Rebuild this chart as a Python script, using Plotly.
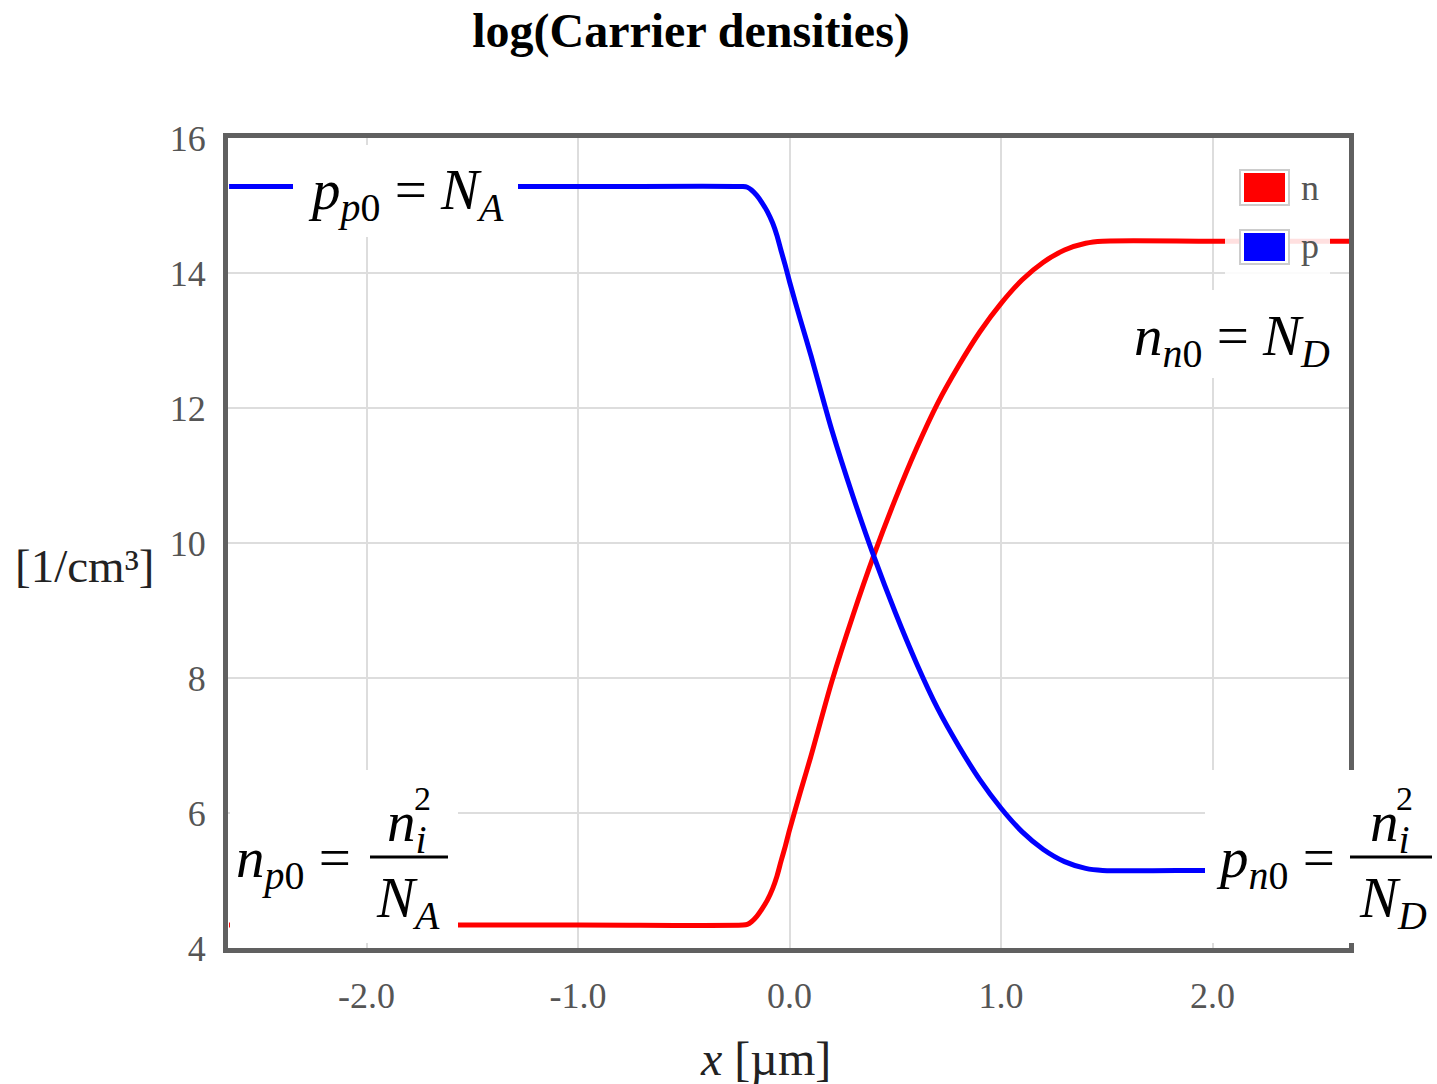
import plotly.graph_objects as go

# ---------------- data ----------------
x_um = [-2.65, -1.0, -0.22, -0.2, -0.18, -0.155, -0.13, -0.105, -0.08, -0.06, -0.04, -0.02,
        0.0, 0.05, 0.1, 0.2, 0.3, 0.4, 0.5, 0.6, 0.7, 0.8, 0.9, 1.0, 1.1, 1.2, 1.3,
        1.4, 1.48, 2.0, 2.65]
n_log = [4.34, 4.34, 4.34, 4.35, 4.39, 4.47, 4.58, 4.71, 4.88, 5.06, 5.29, 5.51,
         5.75, 6.30, 6.83, 7.95, 8.93, 9.83, 10.65, 11.40, 12.07, 12.63, 13.13, 13.55,
         13.90, 14.16, 14.34, 14.44, 14.47, 14.47, 14.47]
p_log = [15.28, 15.28, 15.28, 15.27, 15.23, 15.15, 15.04, 14.91, 14.74, 14.56, 14.33, 14.11,
         13.87, 13.32, 12.79, 11.67, 10.69, 9.79, 8.97, 8.22, 7.55, 6.99, 6.49, 6.07,
         5.72, 5.46, 5.28, 5.18, 5.15, 5.15, 5.15]
series_names = ["n", "p"]
series_colors = ["#ff0000", "#0000ff"]
x_tick_vals = [-2.0, -1.0, 0.0, 1.0, 2.0]
x_tick_text = ["-2.0", "-1.0", "0.0", "1.0", "2.0"]
y_tick_vals = [4, 6, 8, 10, 12, 14, 16]
y_tick_text = ["4", "6", "8", "10", "12", "14", "16"]
title_text = "log(Carrier densities)"
y_title = "[1/cm³]"
x_title = "<i>x</i> [µm]"

# ---------------- layout helpers ----------------
W, H = 1437, 1084
L, R, T, B = 228, 88, 138, 136
PW, PH = W - L - R, H - T - B
SERIF = "Liberation Serif, Times New Roman, serif"


def px(x):
    return (x - L) / PW


def py(y):
    return 1 - (y - T) / PH


fig = go.Figure()
for name, col, ys in zip(series_names, series_colors, [n_log, p_log]):
    fig.add_trace(go.Scatter(x=x_um, y=ys, name=name, mode="lines",
                             line=dict(color=col, width=5, shape="spline", smoothing=0.8),
                             showlegend=False))

shapes = []
# white boxes behind formulas
for (x0, y0, x1, y1) in [(293, 145, 518, 237), (1125, 290, 1340, 378),
                         (230, 770, 458, 943), (1205, 770, 1437, 943)]:
    shapes.append(dict(type="rect", xref="paper", yref="paper", x0=px(x0), x1=px(x1),
                       y0=py(y1), y1=py(y0), fillcolor="white", line=dict(width=0),
                       layer="above"))
# legend box
shapes.append(dict(type="rect", xref="paper", yref="paper", x0=px(1225), x1=px(1330),
                   y0=py(276), y1=py(160), fillcolor="rgba(255,255,255,0.88)",
                   line=dict(width=0), layer="above"))
for col, (ya, yb) in zip(series_colors, [(173, 202), (233, 261)]):
    shapes.append(dict(type="rect", xref="paper", yref="paper", x0=px(1240), x1=px(1289),
                       y0=py(yb + 3), y1=py(ya - 3), fillcolor="white",
                       line=dict(color="#cccccc", width=2), layer="above"))
    shapes.append(dict(type="rect", xref="paper", yref="paper", x0=px(1244), x1=px(1285),
                       y0=py(yb), y1=py(ya), fillcolor=col, line=dict(width=0),
                       layer="above"))
# fraction bars
for (x0, x1) in [(370, 448), (1350, 1432)]:
    shapes.append(dict(type="line", xref="paper", yref="paper", x0=px(x0), x1=px(x1),
                       y0=py(857), y1=py(857), line=dict(color="black", width=3),
                       layer="above"))

annotations = []


def ann(text, x, y, size, xanchor="center", yanchor="middle", color="black"):
    annotations.append(dict(text=text, x=px(x), y=py(y), xref="paper", yref="paper",
                            showarrow=False, xanchor=xanchor, yanchor=yanchor,
                            font=dict(family=SERIF, size=size, color=color)))


# legend labels
ann(series_names[0], 1299, 188, 36, xanchor="left", color="#555555")
ann(series_names[1], 1299, 246, 36, xanchor="left", color="#555555")

# formulas
ann("<i>p</i><sub><i>p</i>0</sub> = <i>N</i><sub><i>A</i></sub>", 406, 194, 57)
ann("<i>n</i><sub><i>n</i>0</sub> = <i>N</i><sub><i>D</i></sub>", 1232, 340, 57)

ann("<i>n</i><sub><i>p</i>0</sub> =", 234, 862, 57, xanchor="left")
ann("<i>n</i><sub><i>i</i></sub>", 407, 826, 57)
ann("2", 422, 798, 34)
ann("<i>N</i><sub><i>A</i></sub>", 408, 902, 57)

ann("<i>p</i><sub><i>n</i>0</sub> =", 1214, 862, 57, xanchor="left")
ann("<i>n</i><sub><i>i</i></sub>", 1390, 826, 57)
ann("2", 1404, 798, 34)
ann("<i>N</i><sub><i>D</i></sub>", 1393, 902, 57)

# axis titles
ann(y_title, 85, 566, 47, color="#222222")
ann(x_title, 765, 1058, 48, color="#222222")

fig.update_layout(
    width=W, height=H,
    margin=dict(l=L, r=R, t=T, b=B),
    paper_bgcolor="white", plot_bgcolor="white",
    title=dict(text="<b>" + title_text + "</b>", x=691 / W, xref="container",
               xanchor="center", y=1 - 30 / H, yref="container", yanchor="middle",
               font=dict(family=SERIF, size=48, color="black")),
    shapes=shapes, annotations=annotations,
    xaxis=dict(range=[-2.655, 2.645], tickvals=x_tick_vals, ticktext=x_tick_text,
               showgrid=True, gridcolor="#dddddd", gridwidth=2, zeroline=False,
               showline=True, linecolor="#606060", linewidth=5, mirror=True,
               ticks="", ticklabelstandoff=12,
               tickfont=dict(family=SERIF, size=36, color="#555555")),
    yaxis=dict(range=[4, 16], tickvals=y_tick_vals, ticktext=y_tick_text, showgrid=True,
               gridcolor="#dddddd", gridwidth=2, zeroline=False,
               showline=True, linecolor="#606060", linewidth=5, mirror=True,
               ticks="", ticklabelstandoff=10,
               tickfont=dict(family=SERIF, size=36, color="#555555")),
)

fig.write_html("out.html")
